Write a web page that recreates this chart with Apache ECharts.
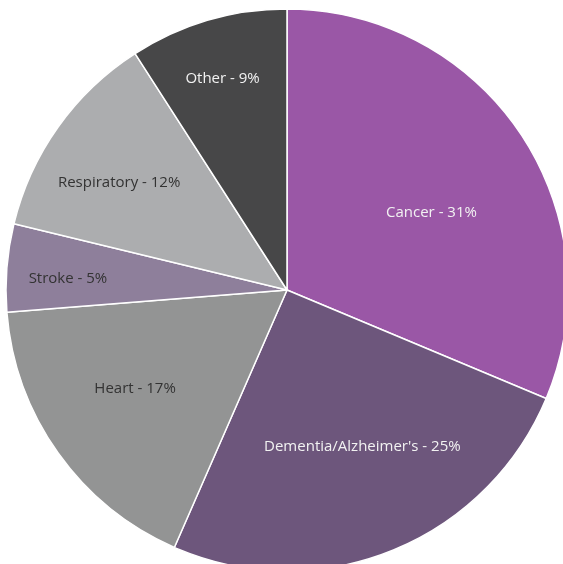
<!DOCTYPE html>
<html>
<head>
<meta charset="utf-8">
<script src="https://cdn.jsdelivr.net/npm/echarts@6/dist/echarts.min.js"></script>
<style>
  html, body { margin: 0; padding: 0; background: #fff; }
  #pie { width: 563px; height: 564px; }
</style>
</head>
<body>
<div id="pie"></div>
<script>
/* data */
var causes = ["Cancer", "Dementia/Alzheimer's", "Heart", "Stroke", "Respiratory", "Other"];
var shares = [31, 25, 17, 5, 12, 9];
var colors = ["#9a57a6", "#6d567c", "#939494", "#8e7f9b", "#acadaf", "#474748"];
var textColors = ["#f2f2f2", "#f2f2f2", "#333333", "#333333", "#333333", "#f2f2f2"];
// shift each label away from the default mid-radius spot
var labelOffsets = [[25, 2], [22, 24], [-35, 15], [-76, 0], [-51, -24], [-24, -74]];

var items = [];
for (var i = 0; i < causes.length; i++) {
    items.push({
        name: causes[i],
        value: shares[i],
        itemStyle: { color: colors[i] },
        label: { color: textColors[i], offset: labelOffsets[i] }
    });
}

var pie = echarts.init(document.getElementById('pie'));
pie.setOption({
    animation: false,
    series: [
        {
            type: 'pie',
            center: [287, 290],
            radius: [0, 281],
            startAngle: 90,
            clockwise: true,
            avoidLabelOverlap: false,
            itemStyle: {
                borderColor: '#ffffff',
                borderWidth: 1.5
            },
            label: {
                show: true,
                position: 'inside',
                formatter: '{b} - {c}%',
                fontFamily: 'Open Sans',
                fontSize: 15
            },
            labelLine: { show: false },
            emphasis: { disabled: true },
            data: items
        }
    ]
});
</script>
</body>
</html>
